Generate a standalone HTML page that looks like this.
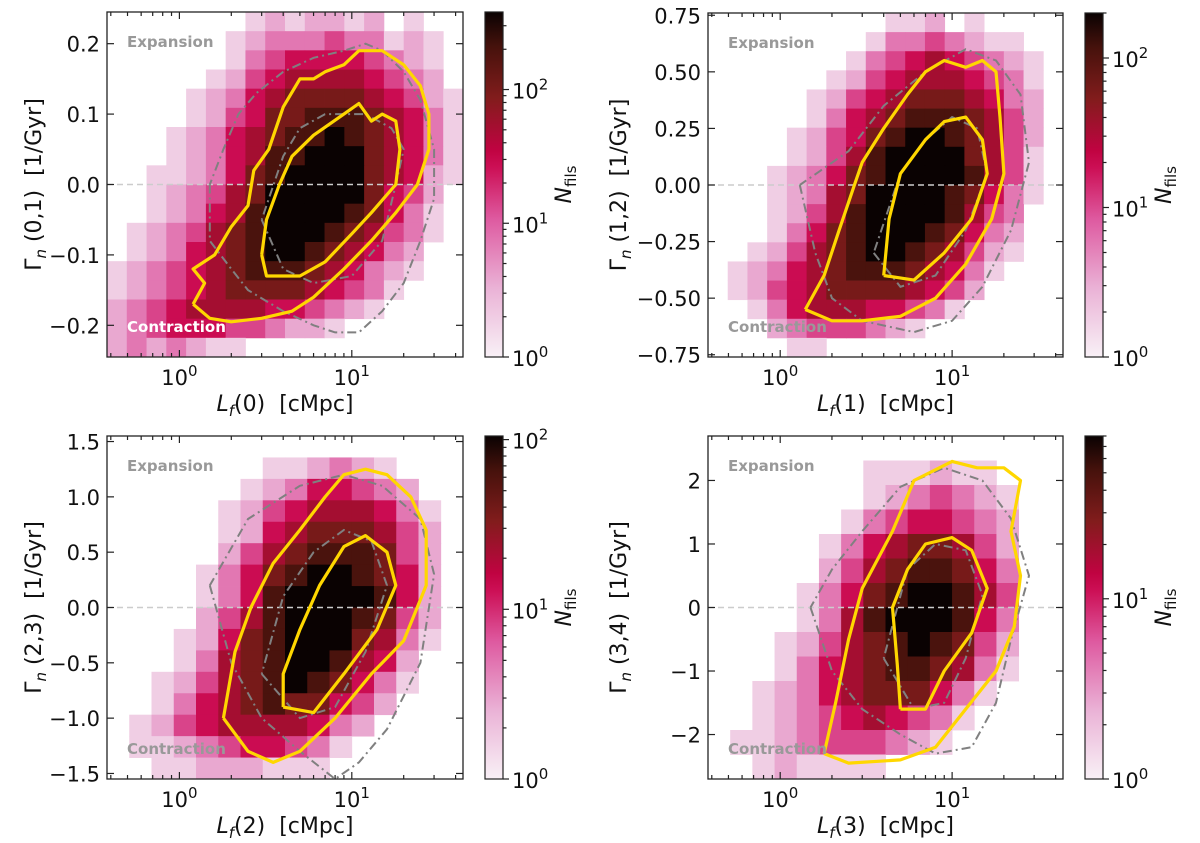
<!DOCTYPE html>
<html><head><meta charset="utf-8"><style>
html,body{margin:0;padding:0;background:#fff;}
svg{display:block;font-family:"DejaVu Sans","Liberation Sans",sans-serif;}
</style></head><body>
<svg id="fig" width="1200" height="843" viewBox="0 0 1200 843" xmlns="http://www.w3.org/2000/svg"></svg>
<script>
// ---- data ----
const p1Rows=["000000012122120100","000000123334331210","000000134555543210","000001245666654320","000012356777765421","000012457788876531","000123567889876531","000123568899976531","001123578999976521","001234679999975420","001235689999875310","012346789998764310","012356789987653200","123456788876532100","123456777765431000","234566665543210000","234555443221000000","232321100000000000"];
const p2Rows=["000000000112010000","000000001334321100","000000013456543210","000000124566654310","000001245677765320","000001356788876420","000012457899876420","000012468999976410","000123578999986410","000123679999875310","000124689999864300","000135789998753200","001246789987642100","012356788876531000","012456777765420000","001356665543100000","000234443210000000","000011000000000000"];
const p3Rows=["0000000000000000","0000000112321000","0000001235543200","0000012456665310","0000012567776420","0000024678887420","0000135789987520","0000135899998520","0000246899987420","0001257899976310","0001367899865200","0012467898753100","0013567877542000","0124566665320000","0112345543100000","0011222111000000"];
const p4Rows=["0000000000000000","0000000111211000","0000000123432100","0000001345543200","0000013567764200","0000024678875300","0000135789986400","0000136899985300","0001246789874200","0001356788763100","0012356777531000","0012345654310000","0112344432100000","0012111100000000"];
const cbMax=[380,200,105,80];
const p1Outer=[[1.2,-0.17],[1.5,-0.19],[2,-0.195],[3,-0.19],[4.5,-0.18],[6,-0.16],[9,-0.12],[13,-0.08],[18,-0.04],[24,0.0],[28,0.05],[28,0.1],[25,0.14],[20,0.17],[15,0.19],[11,0.19],[9,0.17],[7,0.16],[6,0.15],[5,0.15],[4,0.11],[3.3,0.05],[2.7,0.02],[2.5,-0.03],[2.0,-0.06],[1.6,-0.1],[1.2,-0.12],[1.4,-0.14],[1.2,-0.17]];
const p1Inner=[[3,-0.1],[3.2,-0.13],[5,-0.13],[7,-0.11],[10,-0.07],[13,-0.04],[18,0.0],[19,0.05],[18,0.09],[15,0.1],[13,0.09],[11,0.115],[9,0.1],[6,0.07],[4.5,0.04],[3.8,0.0],[3.2,-0.05],[3,-0.1]];
const p1GOuter=[[1.5,0.0],[1.5,-0.08],[2,-0.12],[2.5,-0.15],[4,-0.18],[6,-0.2],[8,-0.21],[11,-0.21],[15,-0.18],[20,-0.14],[25,-0.08],[30,-0.02],[30,0.05],[25,0.12],[20,0.16],[15,0.19],[12,0.2],[9,0.19],[6,0.18],[4,0.16],[2.8,0.13],[2.2,0.1],[1.8,0.05],[1.5,0.0]];
const p1GInner=[[3,-0.05],[4,-0.12],[6,-0.14],[10,-0.13],[15,-0.08],[18,0],[20,0.05],[17,0.08],[12,0.1],[7,0.1],[5,0.08],[4,0.04],[3,-0.05]];
const p2Outer=[[1.4,-0.55],[2,-0.6],[3,-0.6],[5,-0.58],[8,-0.5],[12,-0.35],[17,-0.15],[20,0.05],[19,0.3],[18,0.5],[15,0.55],[12,0.52],[9,0.55],[7,0.5],[5.5,0.4],[4,0.25],[3,0.1],[2.7,0.0],[2.2,-0.2],[1.8,-0.4],[1.4,-0.55]];
const p2Inner=[[4,-0.4],[6,-0.42],[9,-0.3],[13,-0.15],[16,0.05],[15,0.2],[12,0.3],[9,0.28],[7,0.2],[5,0.05],[4.3,-0.15],[4,-0.4]];
const p2GOuter=[[1.3,0.0],[1.6,-0.3],[2,-0.5],[3,-0.6],[6,-0.65],[10,-0.6],[15,-0.45],[22,-0.2],[28,0.1],[25,0.4],[18,0.55],[12,0.6],[7,0.5],[4,0.35],[2.5,0.15],[1.3,0.0]];
const p2GInner=[[3.5,-0.3],[5,-0.45],[8,-0.4],[12,-0.2],[16,0.05],[14,0.25],[10,0.3],[7,0.2],[5,0.05],[3.5,-0.3]];
const p3Outer=[[1.8,-1.0],[2.5,-1.3],[3.5,-1.4],[5,-1.3],[8,-1.0],[13,-0.6],[20,-0.3],[27,0.2],[27,0.7],[22,1.0],[16,1.2],[12,1.25],[9,1.2],[7,1.0],[5,0.7],[3.5,0.4],[2.6,0.0],[2.1,-0.4],[1.8,-1.0]];
const p3Inner=[[4,-0.9],[6,-0.95],[9,-0.6],[14,-0.2],[18,0.2],[16,0.5],[12,0.65],[9,0.55],[6.5,0.2],[5,-0.2],[4,-0.6],[4,-0.9]];
const p3GOuter=[[1.5,0.2],[2,-0.5],[3,-1.0],[5,-1.3],[8,-1.55],[11,-1.4],[16,-1.1],[25,-0.5],[30,0.3],[25,0.8],[15,1.1],[9,1.2],[5,1.1],[2.5,0.8],[1.5,0.2]];
const p3GInner=[[3,-0.6],[5,-1.0],[8,-0.9],[12,-0.4],[16,0.2],[13,0.6],[9,0.7],[6,0.5],[4,0.1],[3,-0.6]];
const p4Outer=[[1.8,-2.3],[2.5,-2.45],[5,-2.4],[8,-2.2],[12,-1.6],[18,-1.0],[23,-0.3],[25,0.5],[22,1.2],[25,2.0],[20,2.2],[14,2.2],[10,2.3],[6,2.0],[4.5,1.2],[3,0.3],[2.5,-0.5],[2.1,-1.5],[1.8,-2.3]];
const p4Inner=[[5,-1.6],[7,-1.6],[9,-1.0],[13,-0.4],[16,0.3],[13,0.9],[10,1.1],[7,1.0],[5.5,0.6],[4.5,0.0],[4.8,-0.9],[5,-1.6]];
const p4GOuter=[[1.5,0.0],[2,-1.0],[3,-1.6],[5,-2.0],[8,-2.3],[13,-2.2],[18,-1.5],[22,-0.5],[28,0.5],[22,1.4],[15,2.0],[9,2.2],[5,1.9],[3,1.2],[2,0.6],[1.5,0.0]];
const p4GInner=[[4,-0.8],[6,-1.6],[9,-1.5],[12,-0.8],[15,0.2],[12,0.9],[8,1.0],[5.5,0.6],[4,-0.8]];
const p1Ticks=[0.2,0.1,0.0,-0.1,-0.2];
const p2Ticks=[0.75,0.5,0.25,0,-0.25,-0.5,-0.75];
const p3Ticks=[1.5,1.0,0.5,0.0,-0.5,-1.0,-1.5];
const p4Ticks=[2,1,0,-1,-2];
const xTickExps=[0,1];

// ---- layout ----
const panels=[
 {L:107,T:12,W:356,H:345,cb:485,y0:-0.245,y1:0.245,rows:p1Rows,max:cbMax[0],ticks:p1Ticks,dec:1,yl:"(0,1)",xl:"0",outer:p1Outer,inner:p1Inner,go:p1GOuter,gi:p1GInner,cw:"#fff"},
 {L:708,T:13,W:355,H:344,cb:1085,y0:-0.76,y1:0.76,rows:p2Rows,max:cbMax[1],ticks:p2Ticks,dec:2,yl:"(1,2)",xl:"1",outer:p2Outer,inner:p2Inner,go:p2GOuter,gi:p2GInner,cw:"#999"},
 {L:107,T:436,W:356,H:343,cb:485,y0:-1.55,y1:1.55,rows:p3Rows,max:cbMax[2],ticks:p3Ticks,dec:1,yl:"(2,3)",xl:"2",outer:p3Outer,inner:p3Inner,go:p3GOuter,gi:p3GInner,cw:"#999"},
 {L:708,T:436,W:355,H:343,cb:1085,y0:-2.7,y1:2.7,rows:p4Rows,max:cbMax[3],ticks:p4Ticks,dec:0,yl:"(3,4)",xl:"3",outer:p4Outer,inner:p4Inner,go:p4GOuter,gi:p4GInner,cw:"#999"}
];
const LX0=-0.42,LX1=1.645;
const svg=document.getElementById('fig');
const NS="http://www.w3.org/2000/svg";
function mk(tag,attrs,parent){const e=document.createElementNS(NS,tag);for(const k in attrs)e.setAttribute(k,attrs[k]);(parent||svg).appendChild(e);return e;}
const stops=[[0,[248,240,246]],[0.2,[234,178,214]],[0.4,[222,90,160]],[0.58,[200,0,70]],[0.75,[130,28,28]],[0.9,[70,18,12]],[1,[10,2,2]]];
function cmap(t){t=Math.max(0,Math.min(1,t));for(let i=1;i<stops.length;i++){if(t<=stops[i][0]){const a=stops[i-1],b=stops[i];const f=(t-a[0])/(b[0]-a[0]);const c=a[1].map((v,j)=>Math.round(v+(b[1][j]-v)*f));return `rgb(${c[0]},${c[1]},${c[2]})`;}}return "#000";}
function fmt(v,d){let s=Math.abs(v).toFixed(d);return (v<0?"\u2212":"")+s;}
const SP="\u00a0";

panels.forEach((p,pi)=>{
 const g=mk('g',{});
 
 
 const xs=lx=>p.L+(lx-LX0)/(LX1-LX0)*p.W;
 const ys=v=>p.T+(p.y1-v)/(p.y1-p.y0)*p.H;
 const nr=p.rows.length,nc=p.rows[0].length;
 const cw=p.W/nc,ch=p.H/nr;
 const hg=mk('g',{},g);
 
 
 p.rows.forEach((row,r)=>{for(let c=0;c<nc;c++){const d=+row[c];if(!d)continue;
  const lx=LX0+c*(LX1-LX0)/nc, vy=p.y1-r*(p.y1-p.y0)/nr;
  const rc=mk('rect',{x:xs(lx).toFixed(2),y:ys(vy).toFixed(2),width:(cw+0.4).toFixed(2),height:(ch+0.4).toFixed(2),fill:cmap(d/9)},hg);
  
  }});
 const zl=mk('line',{x1:p.L,x2:p.L+p.W,y1:ys(0),y2:ys(0),stroke:"#ccc","stroke-width":1.5,"stroke-dasharray":"6,4"},g);
 
 
 const path=pts=>pts.map((q,i)=>(i?"L":"M")+xs(Math.log10(q[0])).toFixed(1)+","+ys(q[1]).toFixed(1)).join(" ");
 [[p.go,'gray-contour-outer'],[p.gi,'gray-contour-inner']].forEach(([pts,n])=>{const e=mk('path',{d:path(pts),fill:"none",stroke:"#808080","stroke-width":2,"stroke-dasharray":"9,4,2,4"},g);
  
  });
 [[p.outer,'yellow-contour-outer'],[p.inner,'yellow-contour-inner']].forEach(([pts,n])=>{const e=mk('path',{d:path(pts),fill:"none",stroke:"#ffd700","stroke-width":3.2,"stroke-linejoin":"round"},g);
  
  });
 const t1=mk('text',{x:p.L+20,y:p.T+35,"font-size":15,"font-weight":"bold",fill:"#999"},g);t1.textContent="Expansion";
 
 
 const t2=mk('text',{x:p.L+20,y:p.T+p.H-25,"font-size":15,"font-weight":"bold",fill:p.cw},g);t2.textContent="Contraction";
 
 
 const fr=mk('rect',{x:p.L,y:p.T,width:p.W,height:p.H,fill:"none",stroke:"#222","stroke-width":1.3},g);
 
 
 for(let e=-1;e<=1;e++)for(let m=1;m<10;m++){const lx=e+Math.log10(m);if(lx<LX0||lx>LX1)continue;const X=xs(lx),len=m===1?7:4;
  mk('line',{x1:X,x2:X,y1:p.T+p.H,y2:p.T+p.H-len,stroke:"#222","stroke-width":1.2},g);
  mk('line',{x1:X,x2:X,y1:p.T,y2:p.T+len,stroke:"#222","stroke-width":1.2},g);}
 xTickExps.forEach(e=>{const t=mk('text',{x:xs(e),y:p.T+p.H+28,"font-size":21,"text-anchor":"middle",fill:"#111"},g);
  t.innerHTML="10<tspan dy='-9' font-size='15'>"+e+"</tspan>";
  
  });
 p.ticks.forEach(v=>{const Y=ys(v);
  mk('line',{x1:p.L,x2:p.L+7,y1:Y,y2:Y,stroke:"#222","stroke-width":1.2},g);
  mk('line',{x1:p.L+p.W,x2:p.L+p.W-7,y1:Y,y2:Y,stroke:"#222","stroke-width":1.2},g);
  const t=mk('text',{x:p.L-7,y:Y+8,"font-size":21,"text-anchor":"end",fill:"#111"},g);t.textContent=fmt(v,p.dec);
  
  });
 const xl=mk('text',{x:p.L+p.W/2,y:p.T+p.H+54,"font-size":22,"text-anchor":"middle",fill:"#111"},g);
 xl.innerHTML="<tspan font-style='italic'>L</tspan><tspan font-style='italic' font-size='15' dy='5'>f</tspan><tspan dy='-5'>("+p.xl+")"+SP+SP+"[cMpc]</tspan>";
 
 
 const ylx=pi%2===0?p.L-66:p.L-82;
 const yl=mk('text',{x:0,y:0,"font-size":22,"text-anchor":"middle",fill:"#111",transform:`translate(${ylx},${p.T+p.H/2}) rotate(-90)`},g);
 yl.innerHTML="\u0393<tspan font-style='italic' font-size='15' dy='5'>n</tspan><tspan dy='-5'>"+SP+p.yl+SP+SP+"[1/Gyr]</tspan>";
 
 
 const gid='cbg'+pi;const defs=mk('defs',{},g);const lg=mk('linearGradient',{id:gid,x1:0,y1:1,x2:0,y2:0},defs);
 for(let i=0;i<=20;i++)mk('stop',{offset:i/20,"stop-color":cmap(i/20)},lg);
 const cbw=18;
 const cb=mk('rect',{x:p.cb,y:p.T,width:cbw,height:p.H,fill:`url(#${gid})`,stroke:"#222","stroke-width":1.2},g);
 
 
 const lm=Math.log10(p.max);const cy=lv=>p.T+p.H-(lv/lm)*p.H;
 for(let e=0;e<3;e++)for(let m=1;m<10;m++){const lv=e+Math.log10(m);if(lv>lm)continue;const Y=cy(lv);
  mk('line',{x1:p.cb+cbw,x2:p.cb+cbw+(m===1?6:3.5),y1:Y,y2:Y,stroke:"#222","stroke-width":1.2},g);
  if(m===1){const t=mk('text',{x:p.cb+cbw+9,y:Y+9,"font-size":21,fill:"#111"},g);t.innerHTML="10<tspan dy='-9' font-size='15'>"+e+"</tspan>";
   
   }}
 const cl=mk('text',{x:0,y:0,"font-size":22,"text-anchor":"middle",fill:"#111",transform:`translate(${p.cb+cbw+68},${p.T+p.H/2}) rotate(-90)`},g);
 cl.innerHTML="<tspan font-style='italic'>N</tspan><tspan font-size='15' dy='5'>fils</tspan>";
 
 
});
</script>
</body></html>
